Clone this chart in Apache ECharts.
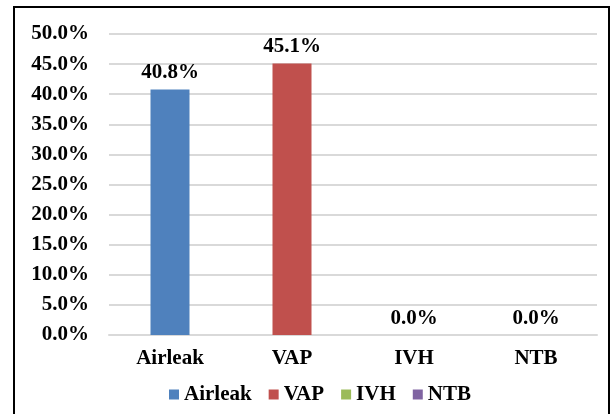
<!DOCTYPE html>
<head>
    <meta charset="UTF-8">
    <title>ECharts</title>
</head>
<body style="margin:0">
<div id="main" style="width:611px;height:414px"></div>
<script src="https://cdn.jsdelivr.net/npm/echarts@6/dist/echarts.min.js"></script>
<script type="text/javascript">
    var categories = ['Airleak', 'VAP', 'IVH', 'NTB'];
    var values = [40.8, 45.1, 0.0, 0.0];
    var colors = ['#4F81BD', '#C0504D', '#9BBB59', '#8064A2'];
    var yTicks = [0, 5, 10, 15, 20, 25, 30, 35, 40, 45, 50];

    var font = '"Liberation Serif", "Times New Roman", serif';

    var series = [];
    for (var i = 0; i < categories.length; i++) {
        var d = [];
        for (var j = 0; j < categories.length; j++) {
            d.push(i == j ? values[i] : '-');
        }
        series.push({
            name: categories[i],
            type: 'bar',
            stack: 'all',
            barWidth: 39,
            data: d,
            itemStyle: { color: colors[i] },
            label: {
                show: true,
                position: 'top',
                distance: 6,
                formatter: function (p) { return p.value.toFixed(1) + '%'; },
                color: '#000',
                fontFamily: font,
                fontWeight: 'bold',
                fontSize: 21
            }
        });
    }

    var option = {
        animation: false,
        backgroundColor: '#fff',
        graphic: [{
            type: 'rect',
            shape: { x: 14, y: 7, width: 595, height: 420 },
            style: { fill: 'none', stroke: '#000', lineWidth: 2 }
        }],
        grid: {
            left: 109,
            right: 14,
            top: 34,
            bottom: 79
        },
        legend: {
            data: categories,
            bottom: 4,
            left: 164,
            itemWidth: 10,
            itemHeight: 10,
            itemGap: 17,
            icon: 'rect',
            textStyle: {
                fontFamily: font,
                fontWeight: 'bold',
                fontSize: 21,
                color: '#000'
            }
        },
        xAxis: {
            type: 'category',
            data: categories,
            axisLine: { lineStyle: { color: '#d9d9d9', width: 2 } },
            axisTick: { show: false },
            axisLabel: {
                margin: 13,
                color: '#000',
                fontFamily: font,
                fontWeight: 'bold',
                fontSize: 21
            }
        },
        yAxis: {
            type: 'value',
            min: yTicks[0],
            max: yTicks[yTicks.length - 1],
            interval: 5,
            axisLine: { show: false },
            axisTick: { show: false },
            splitLine: { lineStyle: { color: '#d9d9d9', width: 2 } },
            axisLabel: {
                margin: 20,
                formatter: function (v) { return v.toFixed(1) + '%'; },
                color: '#000',
                fontFamily: font,
                fontWeight: 'bold',
                fontSize: 21
            }
        },
        series: series
    };

    var myChart = echarts.init(document.getElementById('main'));
    myChart.setOption(option);
</script>
</body>
